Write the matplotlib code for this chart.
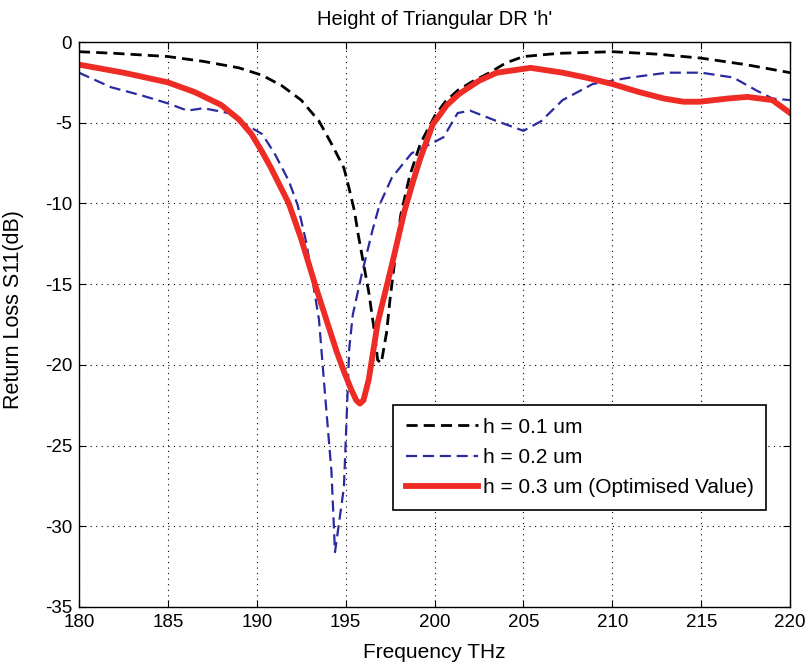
import matplotlib.pyplot as plt
import numpy as np

plt.rcParams['font.family'] = ['Liberation Sans', 'DejaVu Sans']
plt.rcParams['axes.unicode_minus'] = False

# DATA
f1 = [180, 182, 185, 187, 189, 190.3, 191.4, 192.5, 193.5, 194.2, 194.9, 195.2, 195.5,
      195.7, 196.0, 196.3, 196.6, 196.8, 197.0, 197.3, 197.5, 197.8, 198.1, 198.6, 199.2,
      200, 200.6, 201.3, 202.2, 203.1, 204, 205, 207, 210, 212.5, 215, 217.5, 220]
s1 = [-0.6, -0.7, -0.9, -1.2, -1.6, -2.06, -2.7, -3.6, -4.9, -6.3, -7.8, -9.1, -10.5,
      -11.9, -13.7, -15.5, -17.8, -19.7, -19.9, -18.0, -15.9, -13.2, -10.7, -8.3, -6.3,
      -4.6, -3.7, -3.0, -2.4, -1.9, -1.3, -0.9, -0.7, -0.6, -0.75, -1.0, -1.4, -1.9]

f2 = [180, 181.8, 183.5, 185, 186.1, 187, 188.4, 189.2, 190.3, 191.0, 191.8, 192.3, 192.8,
      193.5, 193.8, 194.2, 194.4, 194.6, 194.9, 195.05, 195.2, 195.4, 195.9, 196.5, 196.9,
      197.6, 198.7, 199.8, 200.5, 201.3, 202, 203.5, 205, 206, 207.2, 208.9, 211, 213.1,
      215, 216.8, 218.1, 219, 220]
s2 = [-1.9, -2.8, -3.3, -3.8, -4.25, -4.1, -4.4, -5.0, -5.7, -6.9, -8.6, -10.1, -12.5,
      -17.2, -21.3, -26.6, -31.6, -30.0, -27.6, -23.4, -19.0, -16.9, -14.4, -11.7, -10.1,
      -8.4, -6.9, -6.3, -5.9, -4.4, -4.25, -4.9, -5.5, -4.9, -3.6, -2.6, -2.2, -1.9,
      -1.9, -2.2, -3.0, -3.5, -3.6]

f3 = [180, 182.5, 185, 186.5, 188, 189, 189.7, 190.3, 190.8, 191.3, 191.8, 192.5, 193.3,
      194.0, 194.5, 194.9, 195.3, 195.6, 195.8, 196.0, 196.3, 196.8, 197.6, 198.3, 198.8,
      199.2, 199.9, 200.7, 201.4, 202.5, 203.5, 205.4, 207.2, 208.5, 210, 211.5, 212.9,
      214.0, 214.9, 216.5, 217.6, 219, 220]
s3 = [-1.4, -1.9, -2.5, -3.1, -3.9, -4.8, -5.7, -6.8, -7.8, -8.9, -10.0, -12.2, -15.1,
      -17.5, -19.2, -20.4, -21.5, -22.2, -22.4, -22.2, -20.9, -17.4, -13.8, -10.5, -8.6,
      -7.2, -5.1, -3.9, -3.2, -2.4, -1.9, -1.6, -1.9, -2.2, -2.6, -3.1, -3.5,
      -3.7, -3.7, -3.5, -3.4, -3.6, -4.4]

labels = ['h = 0.1 um', 'h = 0.2 um', 'h = 0.3 um (Optimised Value)']

fig = plt.figure(figsize=(8.1, 6.69), dpi=100)
ax = fig.add_axes([0.0975, 0.0927, 0.878, 0.8445])

ax.plot(f1, s1, color='black', ls=(0, (4, 2.2)), lw=2.0, label=labels[0])
ax.plot(f2, s2, color='#2a2aa0', ls=(0, (5, 2.6)), lw=1.6, label=labels[1])
ax.plot(f3, s3, color='#ee2b24', lw=4.2, label=labels[2])

ax.set_xlim(180, 220)
ax.set_ylim(-35, 0)
ax.set_xticks(np.arange(180, 221, 5))
ax.set_yticks(np.arange(-35, 1, 5))
ax.tick_params(direction='in', top=True, right=True, labelsize=13.5, length=5, pad=5)
ax.grid(True, color='black', ls=(0, (1, 4)), lw=0.8)
for s in ax.spines.values():
    s.set_linewidth(1.0)

ax.set_title("Height of Triangular DR 'h'", fontsize=14.5, pad=12)
ax.set_xlabel('Frequency THz', fontsize=15, labelpad=9)
ax.set_ylabel('Return Loss S11(dB)', fontsize=15.5, labelpad=13)
ax.yaxis.set_label_coords(-0.077, 0.526)

leg = ax.legend(loc='upper left', bbox_to_anchor=(0.4416, 0.3575), fontsize=15,
                fancybox=False, framealpha=1, edgecolor='black', handlelength=3.5,
                borderpad=0.6, labelspacing=0.55, handletextpad=0.2, borderaxespad=0)
leg.get_frame().set_linewidth(1.2)

fig.savefig('out.png', dpi=100)
